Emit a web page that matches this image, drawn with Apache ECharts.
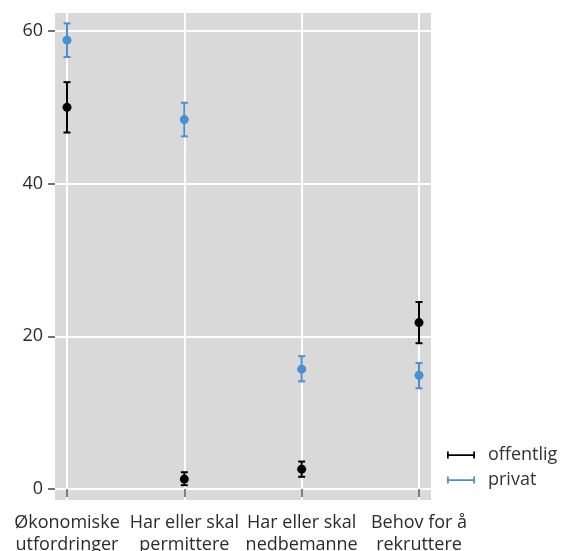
<!DOCTYPE html>
<html><head><meta charset="utf-8">
<script src="https://cdn.jsdelivr.net/npm/echarts@6/dist/echarts.min.js"></script>
<style>html,body{margin:0;padding:0;background:#fff}#c{width:561px;height:551px}</style>
</head><body><div id="c"></div>
<script>
const categories = ['Økonomiske\nutfordringer', 'Har eller skal\npermittere', 'Har eller skal\nnedbemanne', 'Behov for å\nrekruttere'];
const seriesNames = ['offentlig', 'privat'];
const offentligValue = [50.0, 1.3, 2.6, 21.8];
const offentligLow = [46.7, 0.5, 1.6, 19.1];
const offentligHigh = [53.3, 2.2, 3.6, 24.5];
const privatValue = [58.8, 48.4, 15.7, 14.9];
const privatLow = [56.6, 46.2, 14.1, 13.2];
const privatHigh = [61.0, 50.6, 17.4, 16.5];
const yTicks = [0, 20, 40, 60];

const colors = { offentlig: '#000000', privat: '#4a8fd0' };
const FONT = 'Open Sans';
const yMin = -1.44, yMax = 62.36;

function errSeries(name, low, high) {
  return {
    type: 'custom', name: name, xAxisIndex: 1, yAxisIndex: 1, z: 3,
    itemStyle: { color: colors[name] },
    data: categories.map((c, i) => [i, low[i], high[i]]),
    renderItem: function (params, api) {
      const lo = api.coord([api.value(0), api.value(1)]);
      const hi = api.coord([api.value(0), api.value(2)]);
      const w = 3.5;
      const st = { stroke: colors[name], lineWidth: 2, fill: null };
      return { type: 'group', children: [
        { type: 'line', shape: { x1: lo[0], y1: lo[1], x2: hi[0], y2: hi[1] }, style: st },
        { type: 'line', shape: { x1: lo[0] - w, y1: lo[1], x2: lo[0] + w, y2: lo[1] }, style: st },
        { type: 'line', shape: { x1: hi[0] - w, y1: hi[1], x2: hi[0] + w, y2: hi[1] }, style: st }
      ]};
    }
  };
}
function ptSeries(name, vals) {
  return {
    type: 'scatter', name: name, xAxisIndex: 1, yAxisIndex: 1, z: 4,
    symbol: 'circle', symbolSize: 9,
    itemStyle: { color: colors[name], opacity: 1 },
    data: vals.map((v, i) => [i, v])
  };
}

const legendIcon = 'path://M0,0h2v8h-2z M0,3h32v2h-32z M30,0h2v8h-2z';

const option = {
  animation: false,
  backgroundColor: '#ffffff',
  grid: [
    { left: 55, right: 130, top: 13, bottom: 51, show: true, backgroundColor: '#d9d9d9', borderWidth: 0, containLabel: false, outerBoundsMode: 'none' },
    { left: 67, right: 142, top: 13, bottom: 51, show: false, containLabel: false, outerBoundsMode: 'none' }
  ],
  legend: {
    orient: 'vertical', left: 447, top: 446, padding: 0,
    itemWidth: 32, itemHeight: 7, itemGap: 7,
    textStyle: { fontFamily: FONT, fontSize: 18, color: '#333333', padding: [0, 0, 0, 6] },
    data: seriesNames.map(n => ({ name: n, icon: legendIcon, itemStyle: { color: colors[n] } })),
    selectedMode: false
  },
  xAxis: [
    { type: 'value', gridIndex: 0, min: 0, max: 1, show: false },
    { type: 'category', gridIndex: 1, data: categories, boundaryGap: false,
      axisLine: { show: false },
      axisTick: { show: true, alignWithLabel: true, length: 8, lineStyle: { color: '#555555', width: 1.5 } },
      splitLine: { show: true, lineStyle: { color: '#ffffff', width: 2 } },
      axisLabel: { fontFamily: FONT, fontSize: 18, color: '#2b2b2b', margin: 12, lineHeight: 22, interval: 0 }
    }
  ],
  yAxis: [
    { type: 'value', gridIndex: 0, min: yMin, max: yMax,
      axisLine: { show: false },
      axisTick: { show: true, length: 7, lineStyle: { color: '#444444', width: 1.5 }, customValues: yTicks },
      splitLine: { show: true, lineStyle: { color: '#ffffff', width: 2 } },
      axisLabel: { fontFamily: FONT, fontSize: 18, color: '#2b2b2b', margin: 12, customValues: yTicks },
      interval: 20
    },
    { type: 'value', gridIndex: 1, min: yMin, max: yMax, show: false, splitLine: { show: false } }
  ],
  series: [
    errSeries('offentlig', offentligLow, offentligHigh),
    errSeries('privat', privatLow, privatHigh),
    ptSeries('offentlig', offentligValue),
    ptSeries('privat', privatValue)
  ]
};
const chart = echarts.init(document.getElementById('c'), null, { renderer: 'canvas' });
chart.setOption(option);
</script></body></html>
